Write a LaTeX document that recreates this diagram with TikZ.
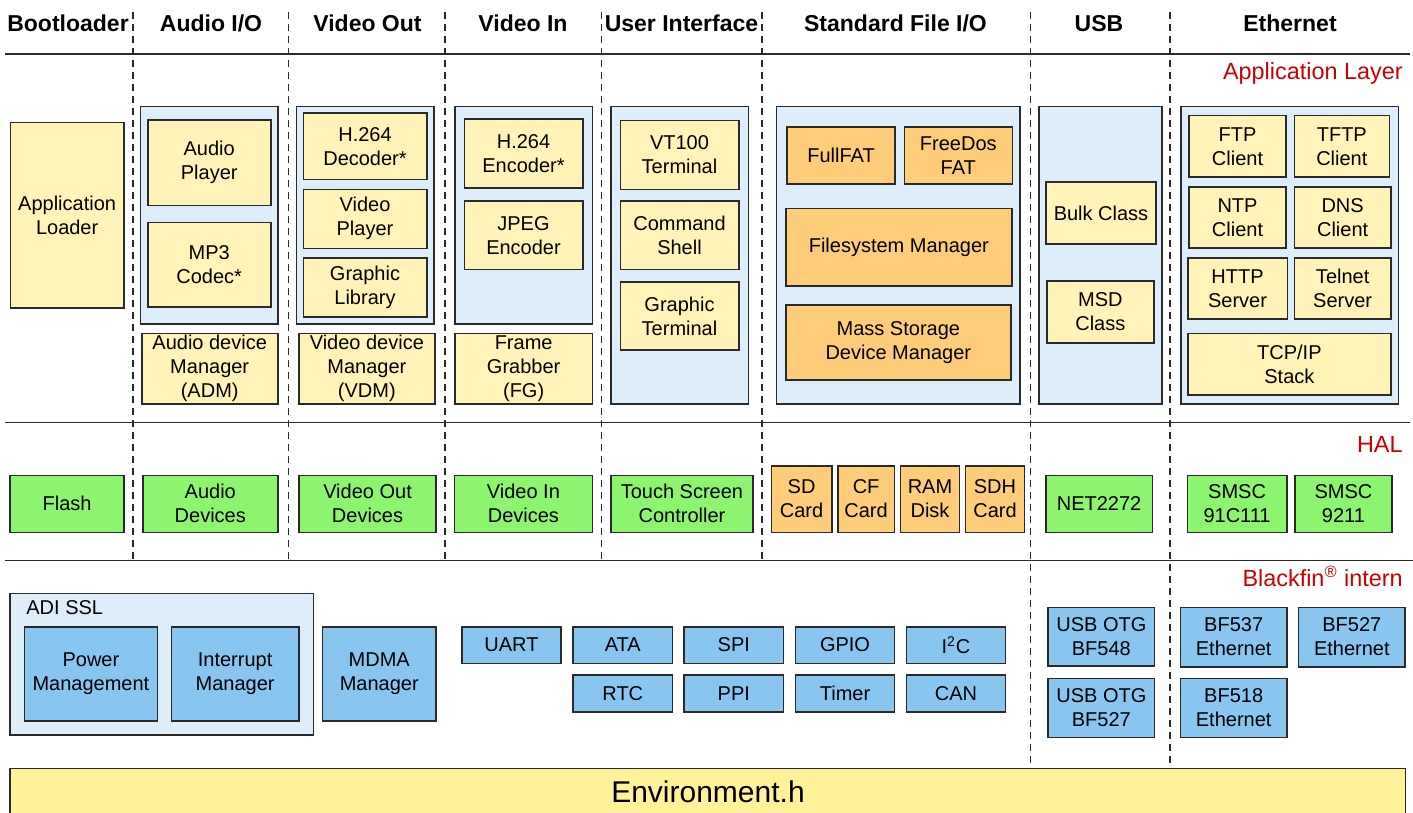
\documentclass[tikz,border=0pt]{standalone}
\usepackage{fontspec}
\setmainfont{Liberation Sans}
\definecolor{lyel}{HTML}{FFF3B8}
\definecolor{lblue}{HTML}{DDEEFA}
\definecolor{grn}{HTML}{8CF46E}
\definecolor{org}{HTML}{FFCC7A}
\definecolor{mblue}{HTML}{88C6EF}
\definecolor{envy}{HTML}{FFF299}
\definecolor{redl}{HTML}{CC0000}
\definecolor{edge}{HTML}{2A2A2A}
\newcommand{\bx}[7]{\node[#2, minimum width={(#5-#3)*0.5pt}, minimum height={(#6-#4)*0.5pt}] (#1) at ({(#3+#5)/2},{(#4+#6)/2}) {#7};}
\tikzset{
  box/.style={draw=edge, line width=0.8pt, inner sep=0pt, outer sep=0pt, align=center, font=\fontsize{10}{12}\selectfont},
  yb/.style={box, fill=lyel},
  gb/.style={box, fill=grn},
  ob/.style={box, fill=org},
  bb/.style={box, fill=mblue},
  cont/.style={box, fill=lblue},
  hdr/.style={font=\bfseries\fontsize{11.5}{13}\selectfont, inner sep=0pt, anchor=base},
  layer/.style={text=redl, font=\fontsize{11.7}{13}\selectfont, anchor=base east, inner sep=0pt},
  sep/.style={dash pattern=on 3.5pt off 2.5pt, line width=0.55pt, draw=edge},
  rulel/.style={line width=0.8pt, draw=edge}
}
\begin{document}
\begin{tikzpicture}[x=0.5pt, y=-0.5pt]
\clip (0,0) rectangle (1413,813);
\fill[white] (0,0) rectangle (1413,813);

% headers
\node[hdr] (hBoot) at (68,32) {Bootloader};
\node[hdr] (hAudio) at (211,32) {Audio I/O};
\node[hdr] (hVout) at (367.5,32) {Video Out};
\node[hdr] (hVin) at (523,32) {Video In};
\node[hdr] (hUI) at (681.5,32) {User Interface};
\node[hdr] (hFile) at (895.5,32) {Standard File I/O};
\node[hdr] (hUSB) at (1099,32) {USB};
\node[hdr] (hEth) at (1290,32) {Ethernet};

% separators
\foreach \xx in {133,288.5,445,601.5,762}
  \draw[sep] (\xx,12) -- (\xx,560);
\foreach \xx in {1030.5,1170}
  \draw[sep] (\xx,12) -- (\xx,768);
\draw[rulel] (5,54) -- (1410,54);
\draw[rulel] (5,422.5) -- (1410,422.5);
\draw[rulel] (5,560.5) -- (1413,560.5);

% layer labels
\node[layer] (lApp) at (1403,80) {Application Layer};
\node[layer] (lHAL) at (1403,452) {HAL};
\node[layer] (lBf) at (1403,586) {Blackfin\textsuperscript{\textregistered} intern};

% ---------- Application layer ----------
\bx{apploader}{yb}{10.3}{122.7}{124}{308}{Application\\Loader}

\bx{cAudio}{cont}{140.3}{106.7}{277.7}{323.7}{}
\bx{audioplayer}{yb}{147.7}{120.3}{270.7}{205.3}{Audio\\Player}
\bx{mp3}{yb}{147.7}{222.3}{270.7}{307}{MP3\\Codec*}
\bx{adm}{yb}{141.7}{333.3}{277.7}{404}{Audio device\\Manager\\(ADM)}

\bx{cVout}{cont}{296.3}{106.7}{434}{323.7}{}
\bx{h264dec}{yb}{303.3}{113.3}{426.7}{179.3}{H.264\\Decoder*}
\bx{vplayer}{yb}{303.3}{189.3}{426.7}{248.3}{Video\\Player}
\bx{glib}{yb}{303.3}{257.7}{426.7}{316.7}{Graphic\\Library}
\bx{vdm}{yb}{298.7}{333.3}{435}{404}{Video device\\Manager\\(VDM)}

\bx{cVin}{cont}{455}{106.7}{592.3}{323.7}{}
\bx{h264enc}{yb}{464.3}{119.3}{582.7}{188}{H.264\\Encoder*}
\bx{jpeg}{yb}{464.3}{201}{582.7}{269.3}{JPEG\\Encoder}
\bx{fg}{yb}{455}{333.3}{592.3}{404}{Frame\\Grabber\\(FG)}

\bx{cUI}{cont}{611}{106.7}{748.3}{404}{}
\bx{vt100}{yb}{620.3}{120.7}{738.7}{189.3}{VT100\\Terminal}
\bx{cmdshell}{yb}{620.3}{201}{738.7}{269.3}{Command\\Shell}
\bx{gterm}{yb}{620.3}{281.7}{738.7}{350}{Graphic\\Terminal}

\bx{cFile}{cont}{776.3}{106.7}{1020}{404}{}
\bx{fullfat}{ob}{787}{127.3}{895}{184}{FullFAT}
\bx{freedos}{ob}{904.3}{127.3}{1012.3}{184}{FreeDos\\FAT}
\bx{fsman}{ob}{786}{208.3}{1011.7}{286}{Filesystem Manager}
\bx{msdman}{ob}{786}{305}{1010.7}{380}{Mass Storage\\Device Manager}

\bx{cUSB}{cont}{1039}{106.7}{1161.7}{404}{}
\bx{bulk}{yb}{1046}{182}{1156}{243.7}{Bulk Class}
\bx{msd}{yb}{1046.7}{281}{1154}{342.7}{MSD\\Class}

\bx{cEth}{cont}{1180.7}{106.7}{1398.3}{404}{}
\bx{ftp}{yb}{1189}{115.7}{1286}{177}{FTP\\Client}
\bx{tftp}{yb}{1294.3}{115.7}{1389.3}{177}{TFTP\\Client}
\bx{ntp}{yb}{1189}{186.7}{1286}{248}{NTP\\Client}
\bx{dns}{yb}{1294.3}{186.7}{1391}{248}{DNS\\Client}
\bx{http}{yb}{1187.7}{257.7}{1287.3}{319}{HTTP\\Server}
\bx{telnet}{yb}{1294.3}{257.7}{1391}{319}{Telnet\\Server}
\bx{tcpip}{yb}{1187.7}{333.3}{1391}{395}{TCP/IP\\Stack}

% ---------- HAL ----------
\bx{flash}{gb}{10.1}{475.3}{124}{532.3}{Flash}
\bx{audiodev}{gb}{142.8}{475.3}{277.8}{532.3}{Audio\\Devices}
\bx{voutdev}{gb}{298.9}{475.3}{436.2}{532.3}{Video Out\\Devices}
\bx{vindev}{gb}{454.5}{475.3}{592.3}{532.3}{Video In\\Devices}
\bx{touch}{gb}{610.7}{475.3}{753.2}{532.3}{Touch Screen\\Controller}
\bx{sdcard}{ob}{771.4}{465.7}{831.8}{532.3}{SD\\Card}
\bx{cfcard}{ob}{837.7}{465.7}{894.5}{532.3}{CF\\Card}
\bx{ramdisk}{ob}{900.5}{465.7}{959.5}{532.3}{RAM\\Disk}
\bx{sdhcard}{ob}{965.5}{465.7}{1024.5}{532.3}{SDH\\Card}
\bx{net2272}{gb}{1045.9}{475.3}{1152.3}{532.3}{NET2272}
\bx{smsca}{gb}{1187.3}{475.3}{1286.8}{532.3}{SMSC\\91C111}
\bx{smscb}{gb}{1295}{475.3}{1391.8}{532.3}{SMSC\\9211}

% ---------- Blackfin intern ----------
\bx{cADI}{cont}{10.1}{593.3}{313.6}{735}{}
\node[anchor=west, inner sep=0pt, font=\fontsize{10}{12}\selectfont] (adissl) at (26,608) {ADI SSL};
\bx{power}{bb}{24.3}{626.7}{157.5}{721}{Power\\Management}
\bx{interrupt}{bb}{171.3}{626.7}{298.9}{721}{Interrupt\\Manager}
\bx{mdma}{bb}{322.3}{626.7}{436.2}{721}{MDMA\\Manager}
\bx{uart}{bb}{461.9}{626.7}{561}{663.3}{UART}
\bx{ata}{bb}{573}{626.7}{672.6}{663.3}{ATA}
\bx{spi}{bb}{684.1}{626.7}{783.6}{663.3}{SPI}
\bx{gpio}{bb}{795.5}{626.7}{894.5}{663.3}{GPIO}
\bx{itwoc}{bb}{906.4}{626.7}{1005.5}{663.3}{I\textsuperscript{2}C}
\bx{rtc}{bb}{573}{675}{672.6}{711.7}{RTC}
\bx{ppi}{bb}{684.1}{675}{783.6}{711.7}{PPI}
\bx{timer}{bb}{795.5}{675}{894.5}{711.7}{Timer}
\bx{can}{bb}{906.4}{675}{1005.5}{711.7}{CAN}
\bx{otga}{bb}{1048.2}{607.3}{1154.5}{666}{USB OTG\\BF548}
\bx{otgb}{bb}{1048.2}{678.3}{1154.5}{737.3}{USB OTG\\BF527}
\bx{bfa}{bb}{1180.5}{607.3}{1286.8}{666.7}{BF537\\Ethernet}
\bx{bfb}{bb}{1298.6}{607.3}{1405}{666.7}{BF527\\Ethernet}
\bx{bfc}{bb}{1180.5}{678.3}{1286.8}{737.3}{BF518\\Ethernet}

% ---------- Environment ----------
\bx{env}{box, fill=envy}{10}{768.3}{1405.5}{820}{}
\node[inner sep=0pt, font=\fontsize{15}{18}\selectfont] (envtext) at (708,792) {Environment.h};
\end{tikzpicture}
\end{document}
